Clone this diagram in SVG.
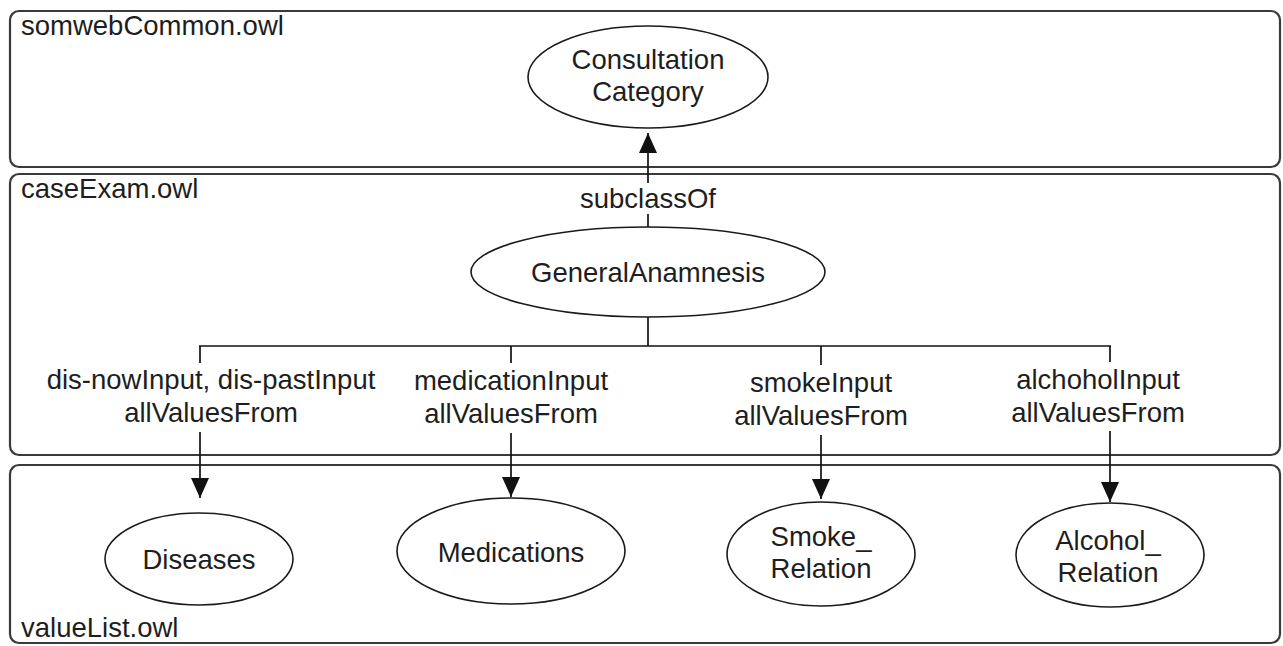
<svg xmlns="http://www.w3.org/2000/svg" width="1283" height="646" viewBox="0 0 1283 646">
<style>
.box{fill:#fff;stroke:#3a3a3a;stroke-width:2.2}
.node ellipse{fill:#fff;stroke:#1a1a1a;stroke-width:1.6}
text{font-family:"Liberation Sans",Arial,Helvetica,sans-serif;font-size:27.5px;fill:#1e1e1e}
.c{text-anchor:middle}
.conn line{stroke:#111;stroke-width:1.7}
</style>
<defs>
<marker id="ah" markerUnits="userSpaceOnUse" markerWidth="22" markerHeight="18" refX="20" refY="9" orient="auto" viewBox="0 0 22 18">
<path d="M0,0 L20,9 L0,18 Z" fill="#111"/>
</marker>
</defs>
<g id="pkg-somwebCommon">
<rect class="box" x="10" y="11" width="1270" height="156" rx="9"/>
<text x="21" y="35">somwebCommon.owl</text>
</g>
<g id="pkg-caseExam">
<rect class="box" x="10" y="174" width="1270" height="281" rx="9"/>
<text x="21" y="198">caseExam.owl</text>
</g>
<g id="pkg-valueList">
<rect class="box" x="10" y="465" width="1270" height="178" rx="9"/>
<text x="21" y="637">valueList.owl</text>
</g>
<g id="node-consultation" class="node">
<ellipse cx="648" cy="77" rx="120" ry="51"/>
<text class="c" x="648" y="69">Consultation</text>
<text class="c" x="648" y="101">Category</text>
</g>
<g id="node-generalAnamnesis" class="node">
<ellipse cx="648" cy="272" rx="177" ry="45"/>
<text class="c" x="648" y="282">GeneralAnamnesis</text>
</g>
<g id="node-diseases" class="node">
<ellipse cx="199" cy="559" rx="94" ry="46"/>
<text class="c" x="199" y="569">Diseases</text>
</g>
<g id="node-medications" class="node">
<ellipse cx="511" cy="551" rx="114" ry="53"/>
<text class="c" x="511" y="562">Medications</text>
</g>
<g id="node-smoke" class="node">
<ellipse cx="821" cy="554" rx="94" ry="52"/>
<text class="c" x="821" y="546">Smoke_</text>
<text class="c" x="821" y="578">Relation</text>
</g>
<g id="node-alcohol" class="node">
<ellipse cx="1110" cy="555" rx="94" ry="52"/>
<text class="c" x="1108" y="550">Alcohol_</text>
<text class="c" x="1108" y="582">Relation</text>
</g>
<g id="connectors" class="conn">
<line x1="648" y1="227" x2="648" y2="214"/>
<line x1="648" y1="183" x2="648" y2="133" marker-end="url(#ah)"/>
<line x1="648" y1="317" x2="648" y2="346"/>
<line x1="199" y1="346" x2="1111" y2="346"/>
<line x1="200" y1="346" x2="200" y2="363"/>
<line x1="511" y1="346" x2="511" y2="363"/>
<line x1="821" y1="346" x2="821" y2="365"/>
<line x1="1110" y1="346" x2="1110" y2="362"/>
<line x1="200" y1="432" x2="200" y2="498" marker-end="url(#ah)"/>
<line x1="511" y1="433" x2="511" y2="497" marker-end="url(#ah)"/>
<line x1="821" y1="435" x2="821" y2="499" marker-end="url(#ah)"/>
<line x1="1110" y1="431" x2="1110" y2="502" marker-end="url(#ah)"/>
<text class="c" x="648" y="208">subclassOf</text>
<text class="c" x="211" y="389">dis-nowInput, dis-pastInput</text>
<text class="c" x="211" y="422">allValuesFrom</text>
<text class="c" x="511" y="390">medicationInput</text>
<text class="c" x="511" y="423">allValuesFrom</text>
<text class="c" x="821" y="392">smokeInput</text>
<text class="c" x="821" y="425">allValuesFrom</text>
<text class="c" x="1098" y="389">alchoholInput</text>
<text class="c" x="1098" y="422">allValuesFrom</text>
</g>
</svg>
